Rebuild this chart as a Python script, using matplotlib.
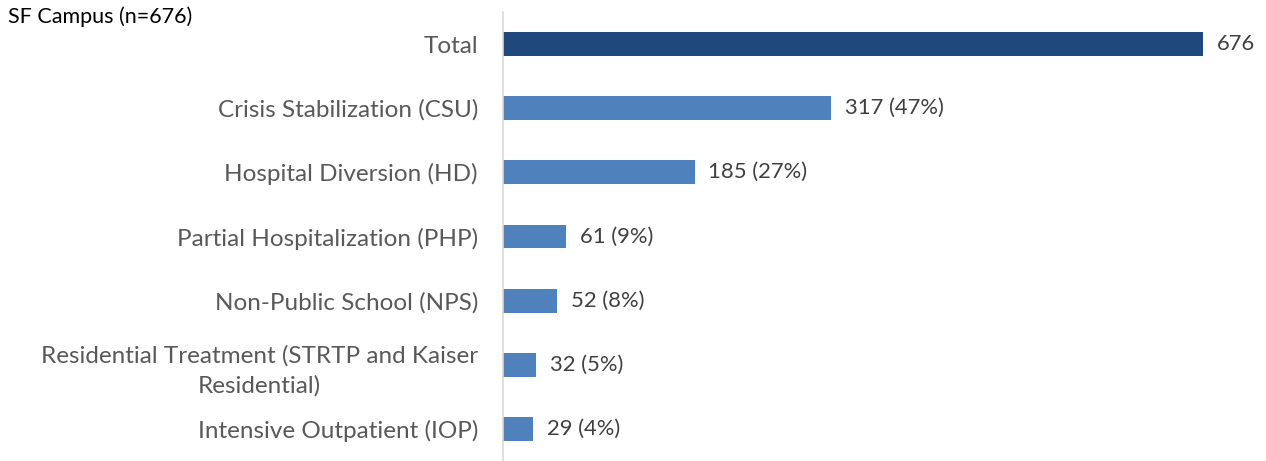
import matplotlib
matplotlib.use("Agg")
import matplotlib.pyplot as plt

# Program categories (top to bottom) and counts
categories = [
    "Total",
    "Crisis Stabilization (CSU)",
    "Hospital Diversion (HD)",
    "Partial Hospitalization (PHP)",
    "Non-Public School (NPS)",
    "Residential Treatment (STRTP and Kaiser\nResidential)",
    "Intensive Outpatient (IOP)",
]
counts = [676, 317, 185, 61, 52, 32, 29]
value_labels = ["676", "317 (47%)", "185 (27%)", "61 (9%)", "52 (8%)", "32 (5%)", "29 (4%)"]

plt.rcParams["font.family"] = ["Lato", "DejaVu Sans"]

fig = plt.figure(figsize=(12.66, 4.61), dpi=100)
ax = fig.add_axes([503 / 1266, 0.0, 763 / 1266, 1 - 12 / 461])

colors = ["#1F497D"] + ["#4F81BD"] * (len(counts) - 1)
ypos = list(range(len(categories)))
ax.barh(ypos, counts, height=0.37, color=colors)

for y, v, lab in zip(ypos, counts, value_labels):
    ax.annotate(lab, (v, y), xytext=(10, 0), textcoords="offset points",
                va="center", ha="left", fontsize=15.8, color="#404040")

ax.set_xlim(0, 736.8)
ax.set_ylim(len(categories) - 0.5, -0.5)
ax.set_yticks(ypos)
ax.set_yticklabels(categories, fontsize=17.5, color="#595959",
                   multialignment="center", linespacing=1.45)
ax.tick_params(axis="y", length=0, pad=18)
ax.set_xticks([])
for side in ["top", "right", "bottom"]:
    ax.spines[side].set_visible(False)
ax.spines["left"].set_color("#D9D9D9")
ax.spines["left"].set_linewidth(1.2)

fig.text(8 / 1266, 1 - 6 / 461, "SF Campus (n=676)", fontsize=15.5, color="black",
         ha="left", va="top")

fig.savefig("out.png", dpi=100)
